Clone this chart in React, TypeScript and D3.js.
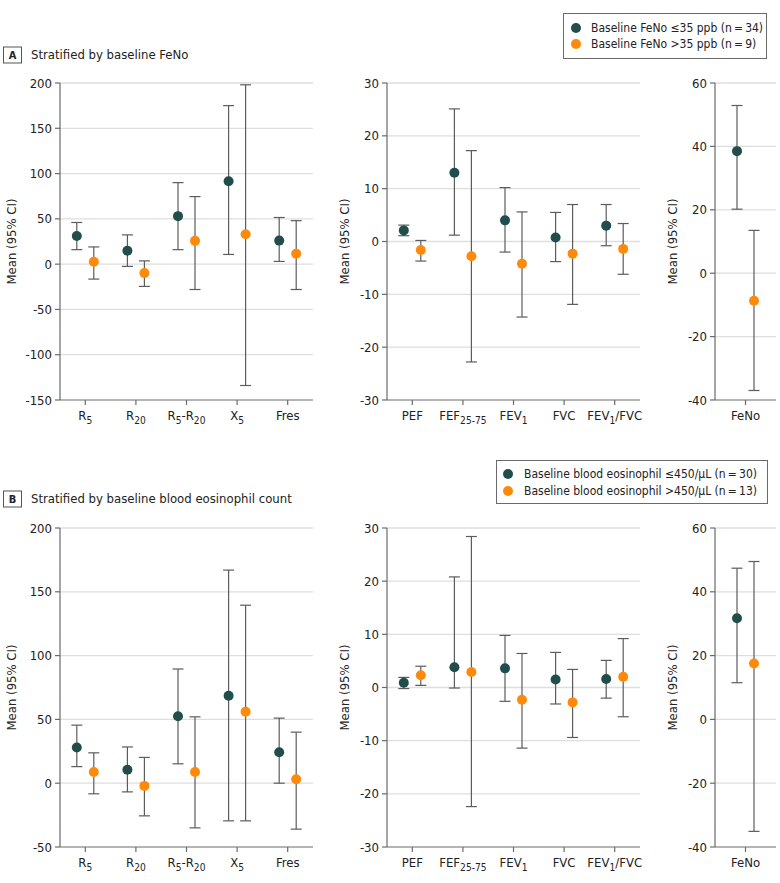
import React from 'react';
import * as d3 from 'd3';

const FONT = '"DejaVu Sans Condensed", "Liberation Sans Narrow", sans-serif';
const TEAL = '#214e4b';
const ORANGE = '#ff8a0a';
const BAR = '#5c5c5c';
const GRID = '#dedede';
const AXIS = '#6a6a6a';

// ---------- categories ----------
const impCats = ['R{5}', 'R{20}', 'R{5}-R{20}', 'X{5}', 'Fres'];
const spiroCats = ['PEF', 'FEF{25-75}', 'FEV{1}', 'FVC', 'FEV{1}/FVC'];
const fenoCats = ['FeNo'];

// ---------- tick values ----------
const impTicksA = [-150, -100, -50, 0, 50, 100, 150, 200];
const impTicksB = [-50, 0, 50, 100, 150, 200];
const spiroTicks = [-30, -20, -10, 0, 10, 20, 30];
const fenoTicks = [-40, -20, 0, 20, 40, 60];

// ---------- titles & legends ----------
const titleA = 'Stratified by baseline FeNo';
const titleB = 'Stratified by baseline blood eosinophil count';
const legendA = ['Baseline FeNo \u226435 ppb (n\u2009=\u200934)', 'Baseline FeNo >35 ppb (n\u2009=\u20099)'];
const legendB = ['Baseline blood eosinophil \u2264450/\u00b5L (n\u2009=\u200930)', 'Baseline blood eosinophil >450/\u00b5L (n\u2009=\u200913)'];
const yTitle = 'Mean (95% CI)';

// ---------- Panel A: FeNo ----------
const aImpLowMean = [31, 14.7, 53, 91.5, 26];
const aImpLowLo = [16, -2.5, 16, 10.7, 3];
const aImpLowHi = [46, 32.3, 90, 175, 51.5];
const aImpHighMean = [2.6, -9.9, 25.7, 33, 11.4];
const aImpHighLo = [-16.5, -24.6, -28, -134, -28];
const aImpHighHi = [19, 3.6, 74.6, 198, 48];

const aSpiroLowMean = [2.1, 13.0, 4.0, 0.75, 3.0];
const aSpiroLowLo = [1.1, 1.2, -2.0, -3.8, -0.8];
const aSpiroLowHi = [3.1, 25.1, 10.2, 5.5, 7.0];
const aSpiroHighMean = [-1.6, -2.8, -4.2, -2.3, -1.4];
const aSpiroHighLo = [-3.7, -22.8, -14.3, -11.9, -6.2];
const aSpiroHighHi = [0.2, 17.2, 5.6, 7.0, 3.4];

const aFenoLowMean = [38.5];
const aFenoLowLo = [20.2];
const aFenoLowHi = [52.9];
const aFenoHighMean = [-8.7];
const aFenoHighLo = [-37];
const aFenoHighHi = [13.5];

// ---------- Panel B: eosinophils ----------
const bImpLowMean = [28, 10.6, 52.5, 68.5, 24.3];
const bImpLowLo = [13, -6.8, 15.2, -29.5, 0];
const bImpLowHi = [45.5, 28.4, 89.5, 167, 51];
const bImpHighMean = [8.8, -2.1, 8.8, 56, 3.1];
const bImpHighLo = [-8.3, -25.6, -35, -29.5, -36];
const bImpHighHi = [23.8, 20.2, 52, 139.5, 40];

const bSpiroLowMean = [0.9, 3.8, 3.6, 1.5, 1.6];
const bSpiroLowLo = [-0.2, -0.1, -2.6, -3.1, -2.0];
const bSpiroLowHi = [1.9, 20.8, 9.8, 6.6, 5.1];
const bSpiroHighMean = [2.3, 2.9, -2.3, -2.8, 2.0];
const bSpiroHighLo = [0.4, -22.4, -11.4, -9.4, -5.5];
const bSpiroHighHi = [4.0, 28.4, 6.4, 3.4, 9.2];

const bFenoLowMean = [31.7];
const bFenoLowLo = [11.5];
const bFenoLowHi = [47.4];
const bFenoHighMean = [17.5];
const bFenoHighLo = [-35.1];
const bFenoHighHi = [49.5];

type Series = { mean: number[]; lo: number[]; hi: number[]; color: string; offset: number };

function RichText({ label, x, y, size }: { label: string; x: number; y: number; size: number }) {
  const parts: { t: string; sub: boolean }[] = [];
  const re = /\{([^}]*)\}|([^{}]+)/g;
  let m: RegExpExecArray | null;
  while ((m = re.exec(label)) !== null) {
    if (m[1] !== undefined) parts.push({ t: m[1], sub: true });
    else parts.push({ t: m[2], sub: false });
  }
  let shift = 0;
  return (
    <text x={x} y={y} textAnchor="middle" fontSize={size} fill="#222" fontFamily={FONT}>
      {parts.map((p, i) => {
        const target = p.sub ? 4 : 0;
        const dy = target - shift;
        shift = target;
        return (
          <tspan key={i} dy={dy} fontSize={p.sub ? size * 0.78 : size}>
            {p.t}
          </tspan>
        );
      })}
    </text>
  );
}

function Panel({
  x0, x1, y0, y1, cats, ticks, series, titleX,
}: {
  x0: number; x1: number; y0: number; y1: number; cats: string[]; ticks: number[]; series: Series[]; titleX: number;
}) {
  const x = d3.scaleBand<string>().domain(cats).range([x0, x1]).padding(0);
  const y = d3.scaleLinear().domain([ticks[0], ticks[ticks.length - 1]]).range([y1, y0]);
  const bw = x.bandwidth();
  const cap = 5.5;
  return (
    <g>
      {ticks.slice(1).map((t) => (
        <line key={'g' + t} x1={x0} x2={x1} y1={y(t)} y2={y(t)} stroke={GRID} strokeWidth={1.3} />
      ))}
      <line x1={x0} x2={x0} y1={y0} y2={y1} stroke={AXIS} strokeWidth={1.2} />
      <line x1={x0} x2={x1} y1={y1} y2={y1} stroke={AXIS} strokeWidth={1.2} />
      {ticks.map((t) => (
        <g key={'t' + t}>
          <line x1={x0 - 5} x2={x0} y1={y(t)} y2={y(t)} stroke={AXIS} strokeWidth={1.2} />
          <text x={x0 - 8} y={y(t)} dy="0.35em" textAnchor="end" fontSize={13} fill="#222" fontFamily={FONT}>
            {t}
          </text>
        </g>
      ))}
      {cats.map((c) => {
        const cx = (x(c) as number) + bw / 2;
        return (
          <g key={'c' + c}>
            <line x1={cx} x2={cx} y1={y1} y2={y1 + 5} stroke={AXIS} strokeWidth={1.2} />
            <RichText label={c} x={cx} y={y1 + 20} size={13} />
          </g>
        );
      })}
      {series.map((s, si) =>
        cats.map((c, i) => {
          const cx = (x(c) as number) + bw / 2 + s.offset;
          return (
            <g key={'s' + si + '-' + i}>
              <line x1={cx} x2={cx} y1={y(s.lo[i])} y2={y(s.hi[i])} stroke={BAR} strokeWidth={1.2} />
              <line x1={cx - cap} x2={cx + cap} y1={y(s.lo[i])} y2={y(s.lo[i])} stroke={BAR} strokeWidth={1.2} />
              <line x1={cx - cap} x2={cx + cap} y1={y(s.hi[i])} y2={y(s.hi[i])} stroke={BAR} strokeWidth={1.2} />
              <circle cx={cx} cy={y(s.mean[i])} r={5} fill={s.color} />
            </g>
          );
        })
      )}
      <text
        transform={`translate(${titleX},${(y0 + y1) / 2}) rotate(-90)`}
        textAnchor="middle"
        fontSize={13}
        fill="#222"
        fontFamily={FONT}
      >
        {yTitle}
      </text>
    </g>
  );
}

function Legend({ x, y, w, h, items, tx, cx, rowY }: { x: number; y: number; w: number; h: number; items: string[]; tx: number; cx: number; rowY: number[] }) {
  const colors = [TEAL, ORANGE];
  return (
    <g>
      <rect x={x} y={y} width={w} height={h} fill="#fff" stroke="#6a6a6a" strokeWidth={1} />
      {items.map((it, i) => (
        <g key={i}>
          <circle cx={cx} cy={rowY[i]} r={5} fill={colors[i]} />
          <text x={tx} y={rowY[i]} dy="0.35em" fontSize={12} fill="#222" fontFamily={FONT}>
            {it}
          </text>
        </g>
      ))}
    </g>
  );
}

function SectionLabel({ letter, title, y }: { letter: string; title: string; y: number }) {
  return (
    <g>
      <rect x={3.5} y={y - 12} width={18} height={16} fill="#fff" stroke="#555" strokeWidth={1} />
      <text x={12.5} y={y} textAnchor="middle" fontSize={11} fontWeight="bold" fill="#222" fontFamily={FONT}>
        {letter}
      </text>
      <text x={31} y={y} fontSize={13} fill="#222" fontFamily={FONT}>
        {title}
      </text>
    </g>
  );
}

function mk(mean: number[], lo: number[], hi: number[], color: string, offset: number): Series {
  return { mean, lo, hi, color, offset };
}

export default function App() {
  const off = 8.5;
  const rows = [
    {
      y0: 83, y1: 400,
      imp: [mk(aImpLowMean, aImpLowLo, aImpLowHi, TEAL, -off), mk(aImpHighMean, aImpHighLo, aImpHighHi, ORANGE, off)],
      spiro: [mk(aSpiroLowMean, aSpiroLowLo, aSpiroLowHi, TEAL, -off), mk(aSpiroHighMean, aSpiroHighLo, aSpiroHighHi, ORANGE, off)],
      feno: [mk(aFenoLowMean, aFenoLowLo, aFenoLowHi, TEAL, -off), mk(aFenoHighMean, aFenoHighLo, aFenoHighHi, ORANGE, off)],
      impTicks: impTicksA,
    },
    {
      y0: 528, y1: 847,
      imp: [mk(bImpLowMean, bImpLowLo, bImpLowHi, TEAL, -off), mk(bImpHighMean, bImpHighLo, bImpHighHi, ORANGE, off)],
      spiro: [mk(bSpiroLowMean, bSpiroLowLo, bSpiroLowHi, TEAL, -off), mk(bSpiroHighMean, bSpiroHighLo, bSpiroHighHi, ORANGE, off)],
      feno: [mk(bFenoLowMean, bFenoLowLo, bFenoLowHi, TEAL, -off), mk(bFenoHighMean, bFenoHighLo, bFenoHighHi, ORANGE, off)],
      impTicks: impTicksB,
    },
  ];
  return (
    <div style={{ position: 'absolute', left: 0, top: 0 }}>
      <svg width={780} height={883} style={{ display: 'block', background: '#fff' }}>
        <Legend x={563.5} y={13.5} w={203} h={45} items={legendA} cx={576} tx={591} rowY={[28, 44]} />
        <SectionLabel letter="A" title={titleA} y={59} />
        <Legend x={496.5} y={460.5} w={271} h={43} items={legendB} cx={508} tx={524} rowY={[474, 491]} />
        <SectionLabel letter="B" title={titleB} y={503} />
        {rows.map((r, i) => (
          <g key={i}>
            <Panel x0={60} x1={313} y0={r.y0} y1={r.y1} cats={impCats} ticks={r.impTicks} series={r.imp} titleX={16} />
            <Panel x0={387} x1={640} y0={r.y0} y1={r.y1} cats={spiroCats} ticks={spiroTicks} series={r.spiro} titleX={349} />
            <Panel x0={715} x1={776} y0={r.y0} y1={r.y1} cats={fenoCats} ticks={fenoTicks} series={r.feno} titleX={677} />
          </g>
        ))}
      </svg>
    </div>
  );
}
